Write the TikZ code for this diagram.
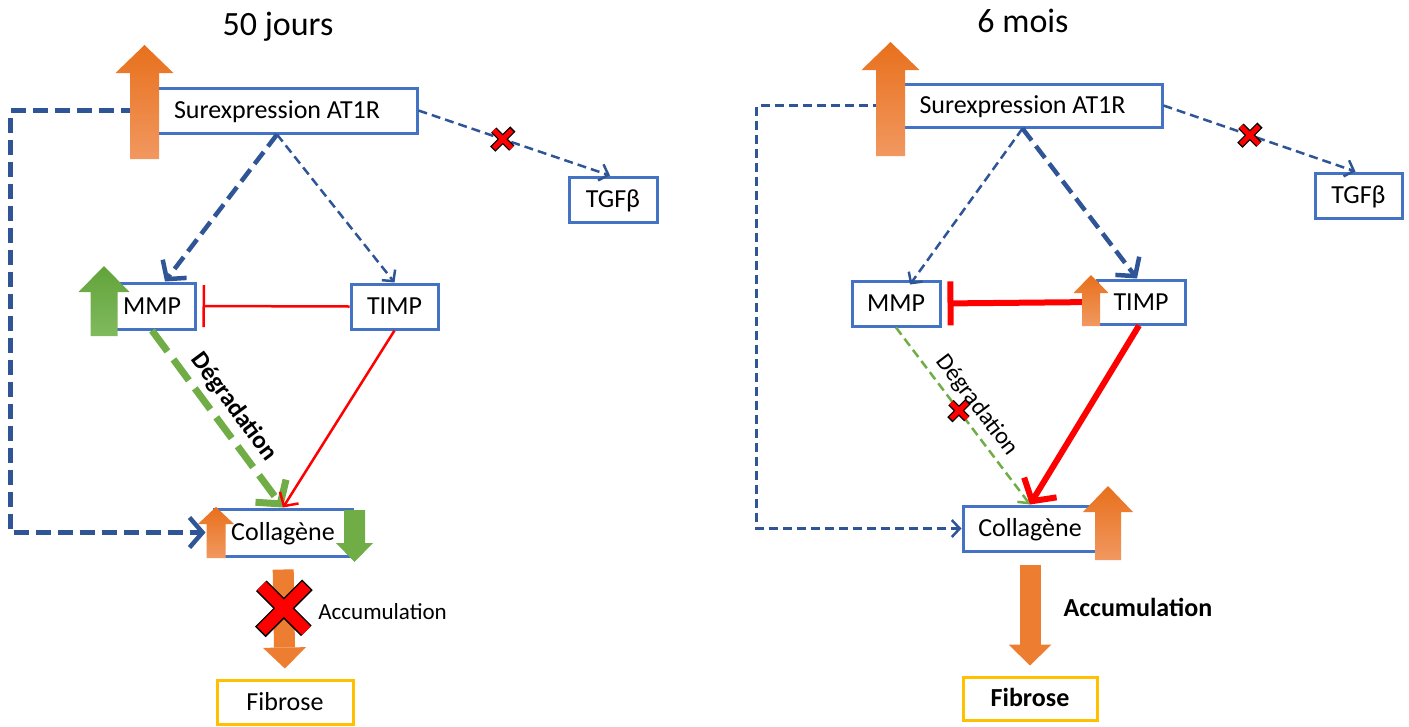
\documentclass[tikz,border=0pt]{standalone}
\usepackage{fontspec}
\setmainfont{Carlito}
\usetikzlibrary{arrows.meta}

\definecolor{boxblue}{RGB}{68,114,196}
\definecolor{linkblue}{RGB}{47,85,151}
\definecolor{mmpgreen}{RGB}{112,173,71}
\definecolor{greentop}{RGB}{98,163,58}
\definecolor{greenbot}{RGB}{128,186,94}
\definecolor{orangetop}{RGB}{232,112,28}
\definecolor{orangebot}{RGB}{241,152,96}
\definecolor{accorange}{RGB}{237,125,49}
\definecolor{fibyellow}{RGB}{255,192,0}

\begin{document}
\begin{tikzpicture}[x=1pt, y=-1pt,
    box/.style={rectangle,draw=boxblue,line width=3pt,fill=white,minimum height=45pt,inner sep=0,
        text height=19pt,text depth=2.3pt,font=\fontsize{26}{30}\selectfont},
    fibbox/.style={box,draw=fibyellow},
    heading/.style={anchor=base,font=\fontsize{34}{40}\selectfont},
    heavy dash/.style={draw=linkblue,line width=4.5pt,dash pattern=on 15pt off 7pt,-{Straight Barb[length=13pt,width=30pt]}},
    light dash/.style={draw=linkblue,line width=2.5pt,dash pattern=on 9pt off 5pt,-{Straight Barb[length=8pt,width=17pt]}},
    degrade heavy/.style={draw=mmpgreen,line width=7pt,dash pattern=on 26pt off 10pt,-{Straight Barb[length=16pt,width=38pt]}},
    degrade light/.style={draw=mmpgreen,line width=2.5pt,dash pattern=on 9pt off 5pt,-{Straight Barb[length=8pt,width=17pt]}},
    red thin/.style={draw=red,line width=2.5pt,-{Straight Barb[length=10pt,width=22pt]}},
    red thick/.style={draw=red,line width=6pt,-{Straight Barb[length=16pt,width=38pt]}},
    inhibit thin/.style={draw=red,line width=2.5pt,-{Bar[width=42pt]},shorten >=6pt},
    inhibit thick/.style={draw=red,line width=6pt,-{Bar[width=44pt]},shorten >=6pt},
    accum/.style={draw=accorange,line width=21pt,-{Triangle[length=21pt,width=43pt,line width=0pt]},
        shorten <=12pt,shorten >=10pt},
    pics/stopx/.style n args={3}{code={
        \draw[black,solid,line width=#3,shorten <=-1.5pt,shorten >=-1.5pt] (-#1,-#1) -- (#1,#1) (-#1,#1) -- (#1,-#1);
        \draw[red,solid,line width=#2] (-#1,-#1) -- (#1,#1) (-#1,#1) -- (#1,-#1);
    }}]

    \useasboundingbox (0,0) rectangle (1409,726);

    % 50 jours
    \node[heading] (title1) at (278,35) {50 jours};
    \node[box,minimum width=280pt] (sur1) at (277,110.5) {Surexpression AT1R};
    \node[box,minimum width=88pt] (tgf1) at (613,199.5) {TGFβ};
    \node[box,minimum width=86pt,minimum height=46pt] (mmp1) at (152,306) {MMP};
    \node[box,minimum width=87pt] (timp1) at (394.5,306.5) {TIMP};
    \node[box,minimum width=138pt,minimum height=47pt] (col1) at (283,532.5) {Collagène};
    \node[fibbox,minimum width=136pt,minimum height=44pt] (fib1) at (285,702) {Fibrose};

    \draw[heavy dash] (sur1.west) -- ++(-125,0) |- ([xshift=-7pt]col1.west);
    \draw[heavy dash] (sur1.south) -- ([xshift=13pt]mmp1.north);
    \draw[light dash] (sur1.south) -- (timp1.north);
    \draw[light dash] (sur1.east) -- coordinate[pos=0.44] (stop1) ([xshift=-3pt]tgf1.north);
    \draw[inhibit thin] (timp1.west) -- (mmp1.east);
    \draw[degrade heavy] (mmp1.south) -- node[sloped,above,inner sep=6pt,font=\bfseries\fontsize{25}{30}\selectfont] {Dégradation} (col1.north);
    \draw[red thin] (timp1.south) -- (col1.north);
    \draw[accum] (col1.south) -- coordinate[pos=0.42] (stop2)
        node[pos=0.45,right=24pt,inner sep=0,text=black,font=\fontsize{23}{28}\selectfont] {Accumulation} (fib1.north);

    % 6 mois
    \node[heading] (title2) at (1023,32) {6 mois};
    \node[box,minimum width=279pt,minimum height=43pt] (sur2) at (1022.5,105.5) {Surexpression AT1R};
    \node[box,minimum width=87pt] (tgf2) at (1358.5,195.5) {TGFβ};
    \node[box,minimum width=88pt] (mmp2) at (896,303.5) {MMP};
    \node[box,minimum width=88pt,minimum height=44pt] (timp2) at (1141,302) {TIMP};
    \node[box,minimum width=134pt] (col2) at (1030,528.5) {Collagène};
    \node[fibbox,minimum width=134pt,minimum height=43pt,font=\bfseries\fontsize{26}{30}\selectfont] (fib2) at (1030,698.5) {Fibrose};

    \draw[light dash] (sur2.west) -- ++(-125,0) |- (col2.west);
    \draw[light dash] (sur2.south) -- ([xshift=14pt,yshift=-5pt]mmp2.north);
    \draw[heavy dash] (sur2.south) -- ([xshift=-4pt]timp2.north);
    \draw[light dash] (sur2.east) -- coordinate[pos=0.45] (stop3) ([xshift=-3pt]tgf2.north);
    \draw[inhibit thick] (timp2.west) -- (mmp2.east);
    \draw[degrade light] (mmp2.south) -- coordinate[pos=0.47] (stop4)
        node[sloped,above,inner sep=6pt,font=\fontsize{24}{29}\selectfont] {Dégradation} (col2.north);
    \draw[red thick] ([xshift=-2pt]timp2.south) -- (col2.north);
    \draw[accum] (col2.south) -- node[pos=0.45,right=23pt,inner sep=0,text=black,font=\bfseries\fontsize{26}{30}\selectfont] {Accumulation} (fib2.north);

    % block arrows: centre x / base y / shaft / head / head length / tip y / colours
    \foreach \cx/\by/\sw/\hw/\hl/\ty/\tc/\bc in {
        144.5/159/29/58/28/45/orangetop/orangebot,
        104/336/27/51/26/266/greentop/greenbot,
        216/558/19/36/17/507/orangetop/orangebot,
        354.5/510/21/37/-19/562/mmpgreen/mmpgreen,
        890.5/156/29/58/28/42/orangetop/orangebot,
        1091/326/18/35/18/275/orangetop/orangebot,
        1108/560/26/50/26/486/orangetop/orangebot}
        \shade[top color=\tc,bottom color=\bc]
            (\cx-\sw/2,\by) -- (\cx-\sw/2,\ty+\hl) -- (\cx-\hw/2,\ty+\hl) -- (\cx,\ty)
            -- (\cx+\hw/2,\ty+\hl) -- (\cx+\sw/2,\ty+\hl) -- (\cx+\sw/2,\by) -- cycle;

    \pic at (stop1) {stopx={9}{5pt}{7.5pt}};
    \pic at (stop2) {stopx={22.5}{12pt}{15pt}};
    \pic at (stop3) {stopx={9}{5pt}{7.5pt}};
    \pic at (stop4) {stopx={8}{5pt}{7.5pt}};
\end{tikzpicture}
\end{document}
